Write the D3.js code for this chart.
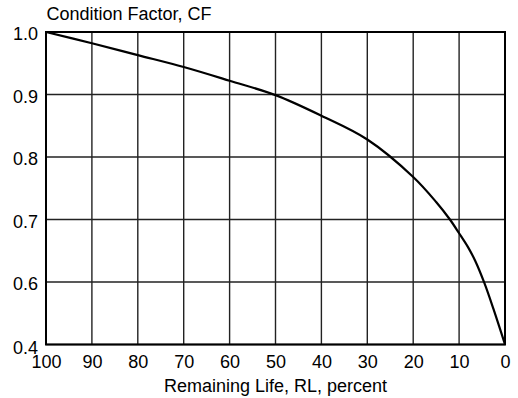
<!DOCTYPE html>
<html>
<head>
<meta charset="utf-8">
<script src="https://cdn.jsdelivr.net/npm/d3@7"></script>
<style>
  html, body { margin: 0; padding: 0; background: #fff; }
  svg { display: block; }
  text { font-family: "Liberation Sans", Arial, Helvetica, sans-serif; fill: #000; }
</style>
</head>
<body>
<svg id="chart" width="518" height="398"></svg>
<script>
// Data
const remainingLife = [100, 90, 80, 70, 60, 50, 40, 30, 20, 15, 12, 10, 8, 6.5, 4.5, 2.5, 0];
const conditionFactor = [1.0, 0.982, 0.963, 0.944, 0.922, 0.899, 0.866, 0.828, 0.768, 0.728, 0.700, 0.678, 0.655, 0.634, 0.597, 0.513, 0.400];
const xTicks = [100, 90, 80, 70, 60, 50, 40, 30, 20, 10, 0];
const yTicks = [0.4, 0.6, 0.7, 0.8, 0.9, 1.0];
const yTickLabels = ["0.4", "0.6", "0.7", "0.8", "0.9", "1.0"];
const yTitle = "Condition Factor, CF";
const xTitle = "Remaining Life, RL, percent";

const svg = d3.select("#chart");
const W = 518, H = 398;
const margin = { left: 46, top: 32, right: 13, bottom: 53.5 };
const plotTop = margin.top, plotBottom = H - margin.bottom;
const x = d3.scaleLinear().domain([100, 0]).range([margin.left, W - margin.right]);
// the reference axis has five equal bands: 0.4 (bottom), 0.6, 0.7, 0.8, 0.9, 1.0
const y = d3.scaleLinear().domain([0.4, 0.6, 1.0])
  .range([plotBottom, plotTop + (plotBottom - plotTop) * 0.8, plotTop]);

const FS = 18;

// grid
const g = svg.append("g");
g.selectAll("line.vg").data(xTicks).join("line")
  .attr("x1", d => x(d)).attr("x2", d => x(d))
  .attr("y1", y(0.4)).attr("y2", y(1.0))
  .attr("stroke", "#222").attr("stroke-width", 1.4);
g.selectAll("line.hg").data(yTicks).join("line")
  .attr("x1", x(100)).attr("x2", x(0))
  .attr("y1", d => y(d)).attr("y2", d => y(d))
  .attr("stroke", "#222").attr("stroke-width", 1.4);

// frame
svg.append("rect")
  .attr("x", x(100)).attr("y", y(1.0))
  .attr("width", x(0) - x(100)).attr("height", y(0.4) - y(1.0))
  .attr("fill", "none").attr("stroke", "#000").attr("stroke-width", 2);

// y axis labels
const yAxis = d3.axisLeft(y).tickValues(yTicks)
  .tickFormat((d, i) => yTickLabels[i]).tickSize(0).tickPadding(8);
const ya = svg.append("g").attr("transform", `translate(${x(100)},0)`).call(yAxis);
ya.select(".domain").remove();
ya.selectAll("text").attr("font-size", FS).attr("dy", "0.42em")
  .attr("font-family", '"Liberation Sans", Arial, sans-serif').attr("fill", "#000");
ya.selectAll(".tick").filter(d => d === 0.4).select("text").attr("dy", "0.52em");

// x axis labels
const xAxis = d3.axisBottom(x).tickValues(xTicks).tickFormat(d3.format("d")).tickSize(0).tickPadding(11);
const xa = svg.append("g").attr("transform", `translate(0,${y(0.4)})`).call(xAxis);
xa.select(".domain").remove();
xa.selectAll("text").attr("font-size", FS)
  .attr("font-family", '"Liberation Sans", Arial, sans-serif').attr("fill", "#000");

// curve
const line = d3.line()
  .x((d, i) => x(remainingLife[i]))
  .y((d, i) => y(conditionFactor[i]))
  .curve(d3.curveCatmullRom.alpha(0.5));
svg.append("path")
  .datum(remainingLife)
  .attr("d", line)
  .attr("fill", "none").attr("stroke", "#000").attr("stroke-width", 2.2);

// titles
svg.append("text").attr("x", x(100) + 0.5).attr("y", 20)
  .attr("font-size", FS).text(yTitle);
svg.append("text").attr("x", (x(100) + x(0)) / 2).attr("y", 392)
  .attr("text-anchor", "middle").attr("font-size", FS).text(xTitle);
</script>
</body>
</html>
